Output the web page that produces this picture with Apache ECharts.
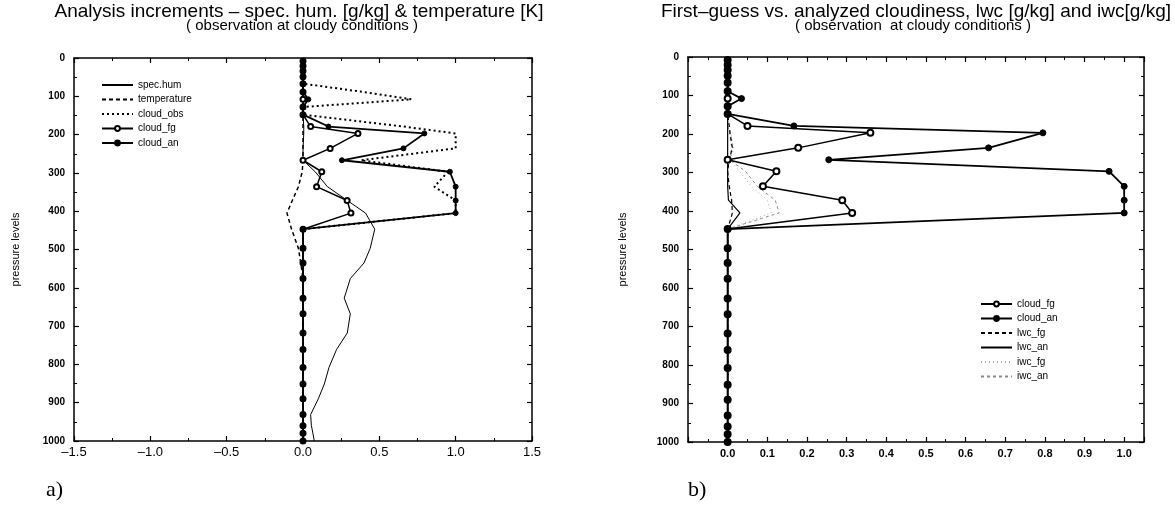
<!DOCTYPE html>
<html><head><meta charset="utf-8">
<script src="https://cdn.jsdelivr.net/npm/echarts/dist/echarts.min.js"></script>
<style>html,body{margin:0;padding:0;background:#fff}#c{width:1175px;height:514px}</style>
</head><body><div id="c"></div>
<script>
// pressure levels (hPa) of the model levels
const levels = [8, 21, 34, 49, 67, 89, 108, 128, 148, 179, 197, 236, 267, 297, 336, 372, 405, 447, 497, 535, 576, 627, 668, 718, 761, 808, 851, 890, 931, 960, 980, 1000];
// panel a)
const specHum     = [0, 0, 0, 0, 0, 0, 0, 0, 0, 0.005, 0.005, 0, 0, 0.08, 0.16, 0.29, 0.41, 0.47, 0.44, 0.40, 0.31, 0.27, 0.31, 0.29, 0.22, 0.17, 0.14, 0.10, 0.05, 0.055, 0.065, 0.074];
const temperature = [0, 0, 0, 0, 0, 0, 0, 0, 0, 0, 0, 0, 0, -0.005, -0.03, -0.07, -0.105, -0.075, -0.03, -0.015, 0, 0, 0, 0, 0, 0, 0, 0, 0, 0, 0, 0];
const cloudObs    = [0, 0, 0, 0, 0, 0.4, 0.71, 0, 0, 0.66, 1.0, 1.0, 0.38, 0.95, 0.86, 1.0, 1.0, 0, 0, 0, 0, 0, 0, 0, 0, 0, 0, 0, 0, 0, 0, 0];
// shared by both panels
const cloudFg     = [0, 0, 0, 0, 0, 0, 0, 0, 0, 0.05, 0.36, 0.178, 0, 0.123, 0.089, 0.289, 0.314, 0, 0, 0, 0, 0, 0, 0, 0, 0, 0, 0, 0, 0, 0, 0];
const cloudAn     = [0, 0, 0, 0, 0, 0, 0.035, 0, 0, 0.167, 0.795, 0.658, 0.255, 0.962, 1.0, 1.0, 1.0, 0, 0, 0, 0, 0, 0, 0, 0, 0, 0, 0, 0, 0, 0, 0];
// panel b)
const lwcFg       = [0, 0, 0, 0, 0, 0, 0, 0, 0, 0.004, 0.006, 0.012, 0.004, 0, 0.004, 0.01, 0.012, 0, 0, 0, 0, 0, 0, 0, 0, 0, 0, 0, 0, 0, 0, 0];
const lwcAn       = [0, 0, 0, 0, 0, 0, 0, 0, 0, 0, 0, 0, 0, 0, 0, 0.002, 0.031, 0, 0, 0, 0, 0, 0, 0, 0, 0, 0, 0, 0, 0, 0, 0];
const iwcFg       = [0, 0, 0, 0, 0, 0, 0, 0, 0, 0, 0.008, 0.015, 0.008, 0.03, 0.06, 0.10, 0.11, 0, 0, 0, 0, 0, 0, 0, 0, 0, 0, 0, 0, 0, 0, 0];
const iwcAn       = [0, 0, 0, 0, 0, 0, 0, 0, 0, 0, 0.005, 0.01, 0.005, 0.045, 0.075, 0.12, 0.13, 0, 0, 0, 0, 0, 0, 0, 0, 0, 0, 0, 0, 0, 0, 0];
// axis ticks
const xTicksA = { min: -1.5, max: 1.5, interval: 0.5 };
const xTicksB = { min: -0.1, max: 1.05, interval: 0.1 };
const yTicks  = { min: 0, max: 1000, interval: 100 };

const FONT = '"Liberation Sans", Arial, Helvetica, sans-serif';
const pts = arr => levels.map((p, i) => [arr[i], p]);

function axisBase(extra) {
  return Object.assign({
    type: 'value',
    axisLine: { show: true, onZero: false, lineStyle: { color: '#000', width: 1.5 } },
    axisTick: { show: true, inside: true, length: 5, lineStyle: { color: '#000', width: 1.2 } },
    minorTick: { show: true, splitNumber: 2, length: 3, lineStyle: { color: '#000', width: 1 } },
    splitLine: { show: false },
    minorSplitLine: { show: false }
  }, extra);
}
const xLabA = { show: true, fontSize: 13, color: '#000', fontFamily: FONT, margin: 5,
  formatter: v => v.toFixed(1).replace('-', '\u2013') };
const xLabB = { show: true, fontSize: 11, color: '#000', fontFamily: FONT, margin: 6, fontWeight: 'bold',
  formatter: v => (v < -0.05 || v > 1.01 ? '' : v.toFixed(1)) };
const yLab = { show: true, fontSize: 10, color: '#000', fontFamily: FONT, margin: 9, fontWeight: 'bold',
  formatter: v => String(v) };

const xAxes = [
  axisBase(Object.assign({ gridIndex: 0, position: 'bottom', axisLabel: xLabA }, xTicksA)),
  axisBase(Object.assign({ gridIndex: 0, position: 'top', axisLabel: { show: false } }, xTicksA)),
  axisBase(Object.assign({ gridIndex: 1, position: 'bottom', axisLabel: xLabB }, xTicksB)),
  axisBase(Object.assign({ gridIndex: 1, position: 'top', axisLabel: { show: false } }, xTicksB))
];
const yName = { name: 'pressure levels', nameLocation: 'middle', nameRotate: 90,
  nameTextStyle: { fontSize: 11, color: '#000', fontFamily: FONT } };
const yAxes = [
  axisBase(Object.assign({ gridIndex: 0, position: 'left', inverse: true, axisLabel: yLab, nameGap: 53 }, yName, yTicks)),
  axisBase(Object.assign({ gridIndex: 0, position: 'right', inverse: true, axisLabel: { show: false } }, yTicks)),
  axisBase(Object.assign({ gridIndex: 1, position: 'left', inverse: true, axisLabel: yLab, nameGap: 60 }, yName, yTicks)),
  axisBase(Object.assign({ gridIndex: 1, position: 'right', inverse: true, axisLabel: { show: false } }, yTicks))
];

function line(name, data, xi, yi, ls, sym, z) {
  return {
    name, type: 'line', xAxisIndex: xi, yAxisIndex: yi, data: pts(data),
    symbol: sym ? sym.type : 'none', symbolSize: sym ? sym.size : 0,
    showSymbol: !!sym,
    lineStyle: Object.assign({ color: '#000' }, ls),
    itemStyle: { color: '#000', borderColor: '#000', borderWidth: 1 },
    emphasis: { disabled: true }, z: z || 2, silent: true
  };
}

const series = [
  line('spec.hum', specHum, 0, 0, { width: 1 }),
  line('temperature', temperature, 0, 0, { width: 1.5, type: [4, 3] }),
  line('cloud_obs', cloudObs, 0, 0, { width: 2, type: [2, 3] }),
  line('cloud_fg', cloudFg, 0, 0, { width: 1.5 }, { type: 'emptyCircle', size: 5 }, 3),
  line('cloud_an', cloudAn, 0, 0, { width: 1.8 }, { type: 'circle', size: 5 }, 4),

  line('iwc_fg', iwcFg, 2, 2, { width: 1, type: [1, 3], color: '#aaa' }),
  line('iwc_an', iwcAn, 2, 2, { width: 1, type: [3, 3], color: '#888' }),
  line('lwc_fg', lwcFg, 2, 2, { width: 1.2, type: [4, 3] }),
  line('lwc_an', lwcAn, 2, 2, { width: 1.2 }),
  line('cloud_fg', cloudFg, 2, 2, { width: 1.5 }, { type: 'emptyCircle', size: 6 }, 3),
  line('cloud_an', cloudAn, 2, 2, { width: 1.8 }, { type: 'circle', size: 6 }, 4)
];

const noSym = name => ({ name, itemStyle: { color: 'rgba(0,0,0,0)', borderColor: 'rgba(0,0,0,0)', borderWidth: 0, opacity: 0 } });
const legendCommon = {
  orient: 'vertical', itemWidth: 31, itemHeight: 6, itemGap: 4.5, selectedMode: false,
  textStyle: { fontSize: 10, color: '#000', fontFamily: FONT, lineHeight: 10 },
  backgroundColor: 'transparent', padding: 0
};

const txt = (text, x, y, size, align, family) => ({
  type: 'text', x, y, silent: true,
  style: { text, fontSize: size, fontFamily: family || FONT, fill: '#000',
    textAlign: align || 'center', textVerticalAlign: 'middle', align: align || 'center', verticalAlign: 'middle' }
});

const chart = echarts.init(document.getElementById('c'), null, { renderer: 'canvas' });
chart.setOption({
  animation: false,
  backgroundColor: '#fff',
  grid: [
    { left: 74, top: 58, width: 458, height: 383 },
    { left: 688, top: 57, width: 456, height: 385 }
  ],
  xAxis: xAxes,
  yAxis: yAxes,
  legend: [
    Object.assign({ left: 101, top: 80, data: [noSym('spec.hum'), noSym('temperature'), noSym('cloud_obs'), 'cloud_fg', 'cloud_an'] }, legendCommon),
    Object.assign({ left: 980, top: 299, data: ['cloud_fg', 'cloud_an', noSym('lwc_fg'), noSym('lwc_an'), noSym('iwc_fg'), noSym('iwc_an')] }, legendCommon)
  ],
  graphic: [
    txt('Analysis increments \u2013 spec. hum. [g/kg] & temperature [K]', 299, 12, 19),
    txt('( observation at cloudy conditions )', 302, 26, 15),
    txt('First\u2013guess vs. analyzed cloudiness, lwc [g/kg] and iwc[g/kg]', 916, 12, 19),
    txt('( observation  at cloudy conditions )', 913, 26, 15),
    txt('a)', 46, 490, 22, 'left', '"Liberation Serif", "Times New Roman", serif'),
    txt('b)', 688, 490, 22, 'left', '"Liberation Serif", "Times New Roman", serif')
  ],
  series
});
</script>
</body></html>
